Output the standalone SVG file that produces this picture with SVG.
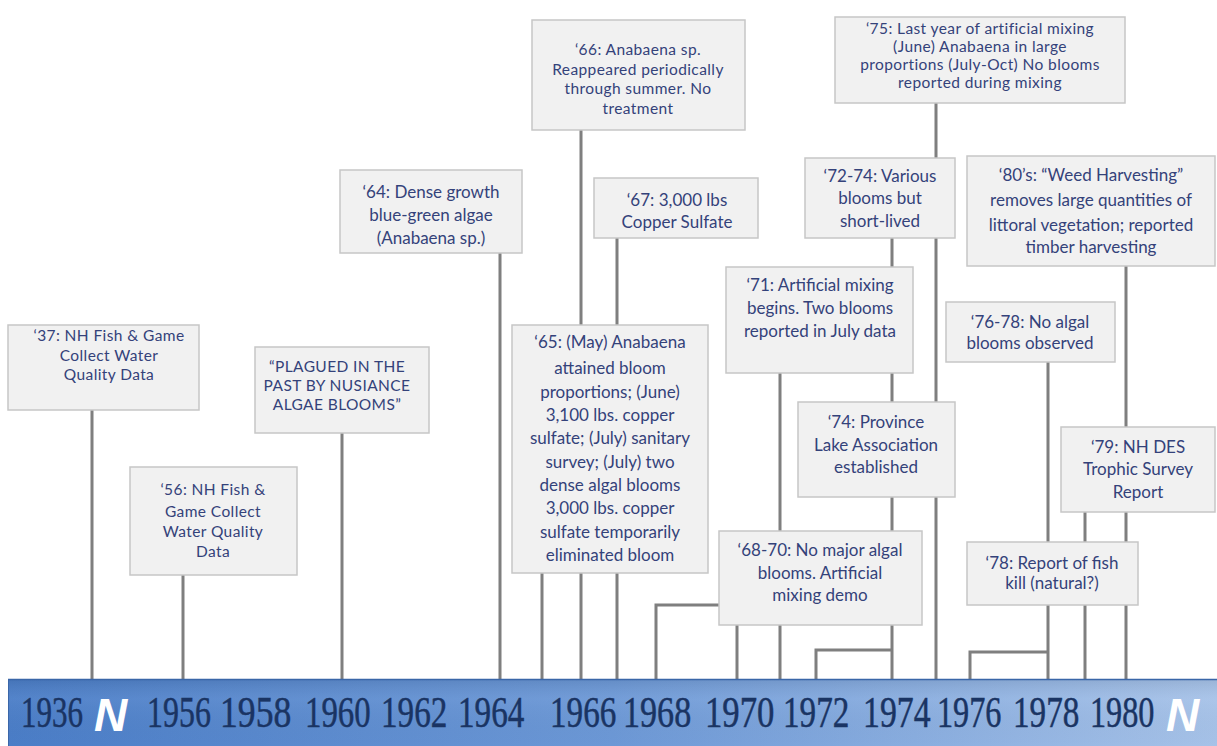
<svg xmlns="http://www.w3.org/2000/svg" width="1217" height="746" viewBox="0 0 1217 746">
<defs>
<linearGradient id="barg" x1="0" y1="0" x2="1" y2="0">
<stop offset="0" stop-color="#4a7dc7"/>
<stop offset="0.5" stop-color="#6c98d6"/>
<stop offset="1" stop-color="#a6c2e8"/>
</linearGradient>
<linearGradient id="barv" x1="0" y1="0" x2="0" y2="1">
<stop offset="0" stop-color="#000" stop-opacity="0.08"/>
<stop offset="0.3" stop-color="#fff" stop-opacity="0.05"/>
<stop offset="1" stop-color="#000" stop-opacity="0"/>
</linearGradient>
</defs>
<style>
.box{fill:#f1f1f1;stroke:#c6c6c6;stroke-width:1.5}
.t{font-family:Lato,"Open Sans",sans-serif;font-size:17px;fill:#34427a;text-anchor:middle}
.s{font-size:15.5px;letter-spacing:0.4px}
.c{fill:none;stroke:#7f7f7f;stroke-width:3}
.yr{font-family:"Liberation Serif","Times New Roman",serif;font-size:31px;fill:#1a3463;stroke:#1a3463;stroke-width:0.35}
.nn{font-family:"Liberation Sans",Arial,sans-serif;font-size:46px;font-weight:bold;font-style:italic;fill:#ffffff}
</style>
<rect width="1217" height="746" fill="#ffffff"/>
<g id="connectors">
<path class="c" d="M92 410V679"/>
<path class="c" d="M183 575V679"/>
<path class="c" d="M342 433V679"/>
<path class="c" d="M500 253V679"/>
<path class="c" d="M542 573V679"/>
<path class="c" d="M581 130V679"/>
<path class="c" d="M617 238V679"/>
<path class="c" d="M737 625V679"/>
<path class="c" d="M719 605H656V679"/>
<path class="c" d="M780 373V679"/>
<path class="c" d="M892 238V679"/>
<path class="c" d="M892 650H816V679"/>
<path class="c" d="M936 103V679"/>
<path class="c" d="M1048 362V679"/>
<path class="c" d="M1048 652H970V679"/>
<path class="c" d="M1085 512V679"/>
<path class="c" d="M1126 266V679"/>
</g>
<g id="n37"><rect class="box" x="8" y="325" width="191" height="85"/>
<text class="t s" x="109" y="341">‘37: NH Fish &amp; Game</text><text class="t s" x="109" y="361">Collect Water</text><text class="t s" x="109" y="380">Quality Data</text></g>
<g id="n56"><rect class="box" x="130" y="467" width="167" height="108"/>
<text class="t s" x="213" y="495">‘56: NH Fish &amp;</text><text class="t s" x="213" y="517">Game Collect</text><text class="t s" x="213" y="537">Water Quality</text><text class="t s" x="213" y="557">Data</text></g>
<g id="nplagued"><rect class="box" x="255" y="347" width="174" height="86"/>
<text class="t s" x="337" y="372">“PLAGUED IN THE</text><text class="t s" x="337" y="391">PAST BY NUSIANCE</text><text class="t s" x="337" y="410">ALGAE BLOOMS”</text></g>
<g id="n64"><rect class="box" x="340" y="170" width="182" height="83"/>
<text class="t" x="431" y="198">‘64: Dense growth</text><text class="t" x="431" y="221">blue-green algae</text><text class="t" x="431" y="244">(Anabaena sp.)</text></g>
<g id="n65"><rect class="box" x="512" y="325" width="196" height="248"/>
<text class="t" x="610" y="348">‘65: (May) Anabaena</text><text class="t" x="610" y="374">attained bloom</text><text class="t" x="610" y="398">proportions; (June)</text><text class="t" x="610" y="421">3,100 lbs. copper</text><text class="t" x="610" y="444">sulfate; (July) sanitary</text><text class="t" x="610" y="468">survey; (July) two</text><text class="t" x="610" y="491">dense algal blooms</text><text class="t" x="610" y="514">3,000 lbs. copper</text><text class="t" x="610" y="538">sulfate temporarily</text><text class="t" x="610" y="561">eliminated bloom</text></g>
<g id="n66"><rect class="box" x="532" y="20" width="213" height="110"/>
<text class="t s" x="638" y="55">‘66: Anabaena sp.</text><text class="t s" x="638" y="75">Reappeared periodically</text><text class="t s" x="638" y="94">through summer. No</text><text class="t s" x="638" y="114">treatment</text></g>
<g id="n67"><rect class="box" x="594" y="178" width="164" height="60"/>
<text class="t" x="677" y="206">‘67: 3,000 lbs</text><text class="t" x="677" y="228">Copper Sulfate</text></g>
<g id="n68"><rect class="box" x="719" y="531" width="203" height="94"/>
<text class="t" x="820" y="556">‘68-70: No major algal</text><text class="t" x="820" y="579">blooms. Artificial</text><text class="t" x="820" y="601">mixing demo</text></g>
<g id="n71"><rect class="box" x="726" y="267" width="187" height="106"/>
<text class="t" x="820" y="291">‘71: Artificial mixing</text><text class="t" x="820" y="314">begins. Two blooms</text><text class="t" x="820" y="337">reported in July data</text></g>
<g id="n7274"><rect class="box" x="805" y="158" width="150" height="80"/>
<text class="t" x="880" y="182">‘72-74: Various</text><text class="t" x="880" y="204">blooms but</text><text class="t" x="880" y="227">short-lived</text></g>
<g id="n74"><rect class="box" x="798" y="402" width="157" height="95"/>
<text class="t" x="876" y="428">‘74: Province</text><text class="t" x="876" y="451">Lake Association</text><text class="t" x="876" y="473">established</text></g>
<g id="n75"><rect class="box" x="835" y="17" width="290" height="86"/>
<text class="t s" x="980" y="34">‘75: Last year of artificial mixing</text><text class="t s" x="980" y="52">(June) Anabaena in large</text><text class="t s" x="980" y="70">proportions (July-Oct) No blooms</text><text class="t s" x="980" y="88">reported during mixing</text></g>
<g id="n7678"><rect class="box" x="946" y="302" width="169" height="60"/>
<text class="t" x="1030" y="328">‘76-78: No algal</text><text class="t" x="1030" y="349">blooms observed</text></g>
<g id="n78"><rect class="box" x="967" y="542" width="171" height="63"/>
<text class="t" x="1052" y="569">‘78: Report of fish</text><text class="t" x="1052" y="589">kill (natural?)</text></g>
<g id="n79"><rect class="box" x="1061" y="427" width="154" height="85"/>
<text class="t" x="1138" y="453">‘79: NH DES</text><text class="t" x="1138" y="475">Trophic Survey</text><text class="t" x="1138" y="498">Report</text></g>
<g id="n80"><rect class="box" x="967" y="156" width="248" height="110"/>
<text class="t" x="1091" y="181">‘80’s: “Weed Harvesting”</text><text class="t" x="1091" y="206">removes large quantities of</text><text class="t" x="1091" y="231">littoral vegetation; reported</text><text class="t" x="1091" y="253">timber harvesting</text></g>
<g id="timeline">
<rect x="8" y="679" width="1209" height="67" fill="url(#barg)"/>
<rect x="8" y="679" width="1209" height="67" fill="url(#barv)"/>
<line x1="8" y1="679.5" x2="1217" y2="679.5" stroke="#3a66a8" stroke-width="1.5"/>
<line x1="8.5" y1="679" x2="8.5" y2="746" stroke="#3a66a8" stroke-width="1"/>
<text class="yr" transform="translate(21 727) scale(1 1.42)">1936</text>
<text class="nn" x="94" y="731">N</text>
<text class="yr" transform="translate(147 727) scale(1.03 1.42)">1956</text>
<text class="yr" transform="translate(220 727) scale(1.15 1.42)">1958</text>
<text class="yr" transform="translate(305 727) scale(1.06 1.42)">1960</text>
<text class="yr" transform="translate(381 727) scale(1.07 1.42)">1962</text>
<text class="yr" transform="translate(458 727) scale(1.07 1.42)">1964</text>
<text class="yr" transform="translate(550 727) scale(1.07 1.42)">1966</text>
<text class="yr" transform="translate(623 727) scale(1.1 1.42)">1968</text>
<text class="yr" transform="translate(705 727) scale(1.12 1.42)">1970</text>
<text class="yr" transform="translate(783 727) scale(1.07 1.42)">1972</text>
<text class="yr" transform="translate(863 727) scale(1.09 1.42)">1974</text>
<text class="yr" transform="translate(937 727) scale(1.04 1.42)">1976</text>
<text class="yr" transform="translate(1013 727) scale(1.07 1.42)">1978</text>
<text class="yr" transform="translate(1090 727) scale(1.04 1.42)">1980</text>
<text class="nn" x="1166" y="731">N</text>
</g>
</svg>
